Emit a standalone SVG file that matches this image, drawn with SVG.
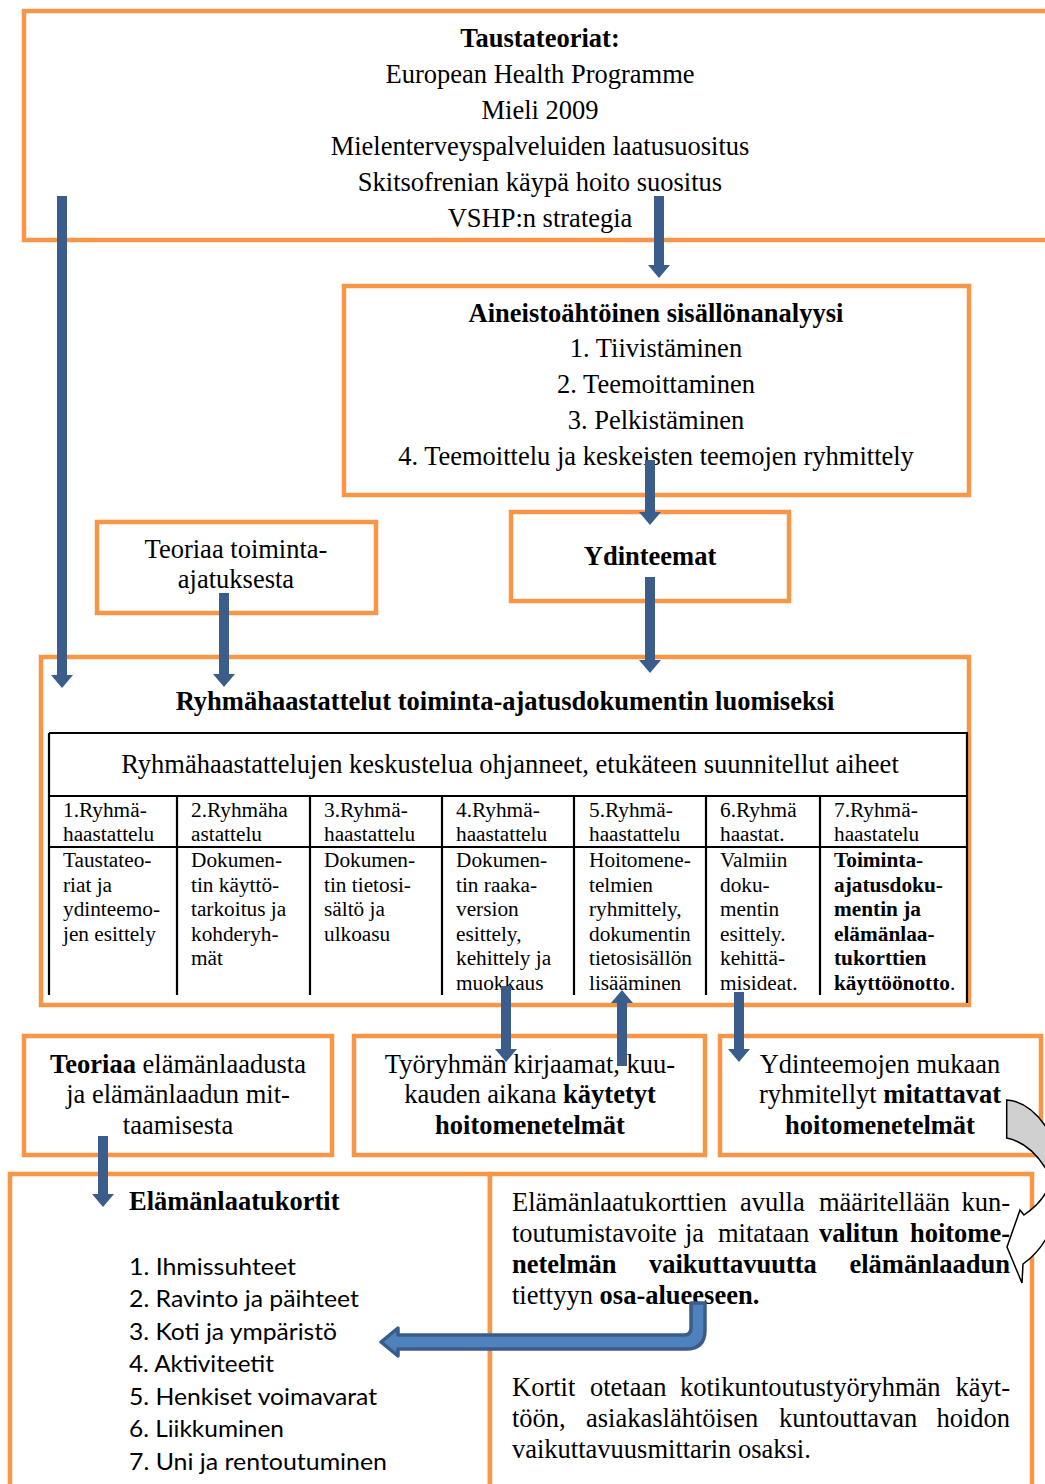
<svg xmlns="http://www.w3.org/2000/svg" width="1045" height="1484" viewBox="0 0 1045 1484">
<style>
.box{fill:#fff;stroke:#F79646;stroke-width:4.5}
.t{font-family:"Liberation Serif","Times New Roman",serif;font-size:26.5px;fill:#000}
.m{text-anchor:middle}
.e{text-anchor:end}
.b{font-weight:bold}
.s{font-size:21.3px}
.k{font-family:Lato,"Open Sans",sans-serif;font-size:24px;fill:#000}
.tl{stroke:#000;stroke-width:2.2;fill:none}
.ar{fill:#3A5D8C}
</style>
<rect width="1045" height="1484" fill="#fff"/>

<g id="taustateoriat">
<rect class="box" x="24" y="11" width="1040" height="229"/>
<text class="t m b" x="540" y="47">Taustateoriat:</text>
<text class="t m" x="540" y="83">European Health Programme</text>
<text class="t m" x="540" y="119">Mieli 2009</text>
<text class="t m" x="540" y="155">Mielenterveyspalveluiden laatusuositus</text>
<text class="t m" x="540" y="191">Skitsofrenian käypä hoito suositus</text>
<text class="t m" x="540" y="227">VSHP:n strategia</text>
</g>

<g id="sisallonanalyysi">
<rect class="box" x="344" y="286" width="625" height="209"/>
<text class="t m b" x="656" y="322">Aineistoähtöinen sisällönanalyysi</text>
<text class="t m" x="656" y="357">1. Tiivistäminen</text>
<text class="t m" x="656" y="393">2. Teemoittaminen</text>
<text class="t m" x="656" y="429">3. Pelkistäminen</text>
<text class="t m" x="656" y="465">4. Teemoittelu ja keskeisten teemojen ryhmittely</text>
</g>

<g id="ydinteemat">
<rect class="box" x="511" y="512" width="278" height="89"/>
<text class="t m b" x="650" y="565">Ydinteemat</text>
</g>

<g id="teoriaa-toiminta">
<rect class="box" x="97" y="522" width="279" height="91"/>
<text class="t m" x="236" y="558">Teoriaa toiminta-</text>
<text class="t m" x="236" y="588">ajatuksesta</text>
</g>

<g id="ryhmahaastattelut">
<rect class="box" x="41" y="657" width="928" height="348"/>
<text class="t m b" x="505" y="710">Ryhmähaastattelut toiminta-ajatusdokumentin luomiseksi</text>
<path class="tl" d="M49,733 H968 M49,733 V995 M967,733 V1003 M49,796 H968 M49,847 H968 M177,796 V995 M310,796 V995 M442,796 V995 M574,796 V995 M706,796 V995 M820,796 V995"/>
<text class="t m" x="510" y="773">Ryhmähaastattelujen keskustelua ohjanneet, etukäteen suunnitellut aiheet</text>
<g class="t s">
<text x="63" y="817">1.Ryhmä-</text><text x="63" y="841">haastattelu</text>
<text x="191" y="817">2.Ryhmäha</text><text x="191" y="841">astattelu</text>
<text x="324" y="817">3.Ryhmä-</text><text x="324" y="841">haastattelu</text>
<text x="456" y="817">4.Ryhmä-</text><text x="456" y="841">haastattelu</text>
<text x="589" y="817">5.Ryhmä-</text><text x="589" y="841">haastattelu</text>
<text x="720" y="817">6.Ryhmä</text><text x="720" y="841">haastat.</text>
<text x="834" y="817">7.Ryhmä-</text><text x="834" y="841">haastatelu</text>

<text x="63" y="867">Taustateo-</text><text x="63" y="891.5">riat ja</text><text x="63" y="916">ydinteemo-</text><text x="63" y="940.5">jen esittely</text>
<text x="191" y="867">Dokumen-</text><text x="191" y="891.5">tin käyttö-</text><text x="191" y="916">tarkoitus ja</text><text x="191" y="940.5">kohderyh-</text><text x="191" y="965">mät</text>
<text x="324" y="867">Dokumen-</text><text x="324" y="891.5">tin tietosi-</text><text x="324" y="916">sältö ja</text><text x="324" y="940.5">ulkoasu</text>
<text x="456" y="867">Dokumen-</text><text x="456" y="891.5">tin raaka-</text><text x="456" y="916">version</text><text x="456" y="940.5">esittely,</text><text x="456" y="965">kehittely ja</text><text x="456" y="989.5">muokkaus</text>
<text x="589" y="867">Hoitomene-</text><text x="589" y="891.5">telmien</text><text x="589" y="916">ryhmittely,</text><text x="589" y="940.5">dokumentin</text><text x="589" y="965">tietosisällön</text><text x="589" y="989.5">lisääminen</text>
<text x="720" y="867">Valmiin</text><text x="720" y="891.5">doku-</text><text x="720" y="916">mentin</text><text x="720" y="940.5">esittely.</text><text x="720" y="965">kehittä-</text><text x="720" y="989.5">misideat.</text>
<g class="b">
<text x="834" y="867">Toiminta-</text><text x="834" y="891.5">ajatusdoku-</text><text x="834" y="916">mentin ja</text><text x="834" y="940.5">elämänlaa-</text><text x="834" y="965">tukorttien</text><text x="834" y="989.5">käyttöönotto<tspan font-weight="normal">.</tspan></text>
</g>
</g>
</g>

<g id="teoriaa-elamanlaatu">
<rect class="box" x="24" y="1036" width="308" height="119"/>
<text class="t m" x="178" y="1073"><tspan class="b">Teoriaa</tspan> elämänlaadusta</text>
<text class="t m" x="178" y="1103">ja elämänlaadun mit-</text>
<text class="t m" x="178" y="1134">taamisesta</text>
</g>

<g id="tyoryhman-kirjaamat">
<rect class="box" x="354" y="1036" width="351" height="119"/>
<text class="t m" x="530" y="1073">Työryhmän kirjaamat, kuu-</text>
<text class="t m" x="530" y="1103">kauden aikana <tspan class="b">käytetyt</tspan></text>
<text class="t m b" x="530" y="1134">hoitomenetelmät</text>
</g>

<g id="mitattavat">
<rect class="box" x="720" y="1036" width="321" height="119"/>
<text class="t m" x="880" y="1073">Ydinteemojen mukaan</text>
<text class="t m" x="880" y="1103">ryhmitellyt <tspan class="b">mitattavat</tspan></text>
<text class="t m b" x="880" y="1134">hoitomenetelmät</text>
</g>

<g id="elamanlaatukortit">
<rect class="box" x="10" y="1174" width="480" height="320"/>
<text class="t b" x="129" y="1210">Elämänlaatukortit</text>
<text class="k" x="129" y="1275" textLength="167" lengthAdjust="spacingAndGlyphs">1. Ihmissuhteet</text>
<text class="k" x="129" y="1307" textLength="230" lengthAdjust="spacingAndGlyphs">2. Ravinto ja päihteet</text>
<text class="k" x="129" y="1340" textLength="208" lengthAdjust="spacingAndGlyphs">3. Koti ja ympäristö</text>
<text class="k" x="129" y="1372" textLength="145" lengthAdjust="spacingAndGlyphs">4. Aktiviteetit</text>
<text class="k" x="129" y="1405" textLength="248" lengthAdjust="spacingAndGlyphs">5. Henkiset voimavarat</text>
<text class="k" x="129" y="1437" textLength="155" lengthAdjust="spacingAndGlyphs">6. Liikkuminen</text>
<text class="k" x="129" y="1470" textLength="258" lengthAdjust="spacingAndGlyphs">7. Uni ja rentoutuminen</text>
</g>

<g id="kuvaus">
<rect class="box" x="490" y="1174" width="542" height="320"/>
<g class="t">
<text x="512" y="1211">Elämänlaatukorttien</text><text x="740" y="1211">avulla</text><text x="819" y="1211">määritellään</text><text class="e" x="1010" y="1211">kun-</text>
<text x="512" y="1242">toutumistavoite</text><text x="685" y="1242">ja</text><text x="718" y="1242">mitataan</text><text class="b" x="819" y="1242">valitun</text><text class="b e" x="1010" y="1242">hoitome-</text>
<text class="b" x="512" y="1273">netelmän</text><text class="b" x="649" y="1273">vaikuttavuutta</text><text class="b e" x="1010" y="1273">elämänlaadun</text>
<text x="512" y="1304">tiettyyn <tspan class="b">osa-alueeseen.</tspan></text>
<text x="512" y="1396">Kortit</text><text x="590" y="1396">otetaan</text><text x="680" y="1396">kotikuntoutustyöryhmän</text><text class="e" x="1010" y="1396">käyt-</text>
<text x="512" y="1427">töön,</text><text x="586" y="1427">asiakaslähtöisen</text><text x="779" y="1427">kuntouttavan</text><text class="e" x="1010" y="1427">hoidon</text>
<text x="512" y="1458">vaikuttavuusmittarin osaksi.</text>
</g>
</g>

<g id="connectors">
<path class="ar" d="M57,196 H67 V675 H73 L62,688 L51,675 H57 Z"/>
<path class="ar" d="M654,196 H664 V265 H670 L659,278 L648,265 H654 Z"/>
<path class="ar" d="M645,460 H655 V512 H661 L650,525 L639,512 H645 Z"/>
<path class="ar" d="M645,577 H655 V660 H661 L650,673 L639,660 H645 Z"/>
<path class="ar" d="M219,593 H229 V674 H235 L224,687 L213,674 H219 Z"/>
<path class="ar" d="M501,986 H511 V1049 H517 L506,1062 L495,1049 H501 Z"/>
<path class="ar" d="M617,1066 H627 V1003 H633 L622,990 L611,1003 H617 Z"/>
<path class="ar" d="M734,992 H744 V1049 H750 L739,1062 L728,1049 H734 Z"/>
<path class="ar" d="M98,1136 H108 V1194 H114 L103,1207 L92,1194 H98 Z"/>
<path d="M691,1303 H705 V1330 Q705,1349 686,1349 H398 V1356 L381,1342 L398,1328 V1335 H684 Q691,1335 691,1328 Z" fill="#4F81BD" stroke="#385D8A" stroke-width="3.5" stroke-linejoin="round"/>
<path d="M1006.7,1100 C1024,1101 1038,1113 1050,1133 L1050,1176 C1040,1157 1026,1142 1006.7,1138 Z" fill="#D0D0D0" stroke="#000" stroke-width="1.5"/>
<path d="M1050,1183 C1046,1196 1036,1207 1024,1215 L1020,1210 L1007,1247 L1022,1283 L1023,1264 C1037,1254 1047,1240 1052,1225 Z" fill="#fff" stroke="#000" stroke-width="1.5"/>
</g>
</svg>
